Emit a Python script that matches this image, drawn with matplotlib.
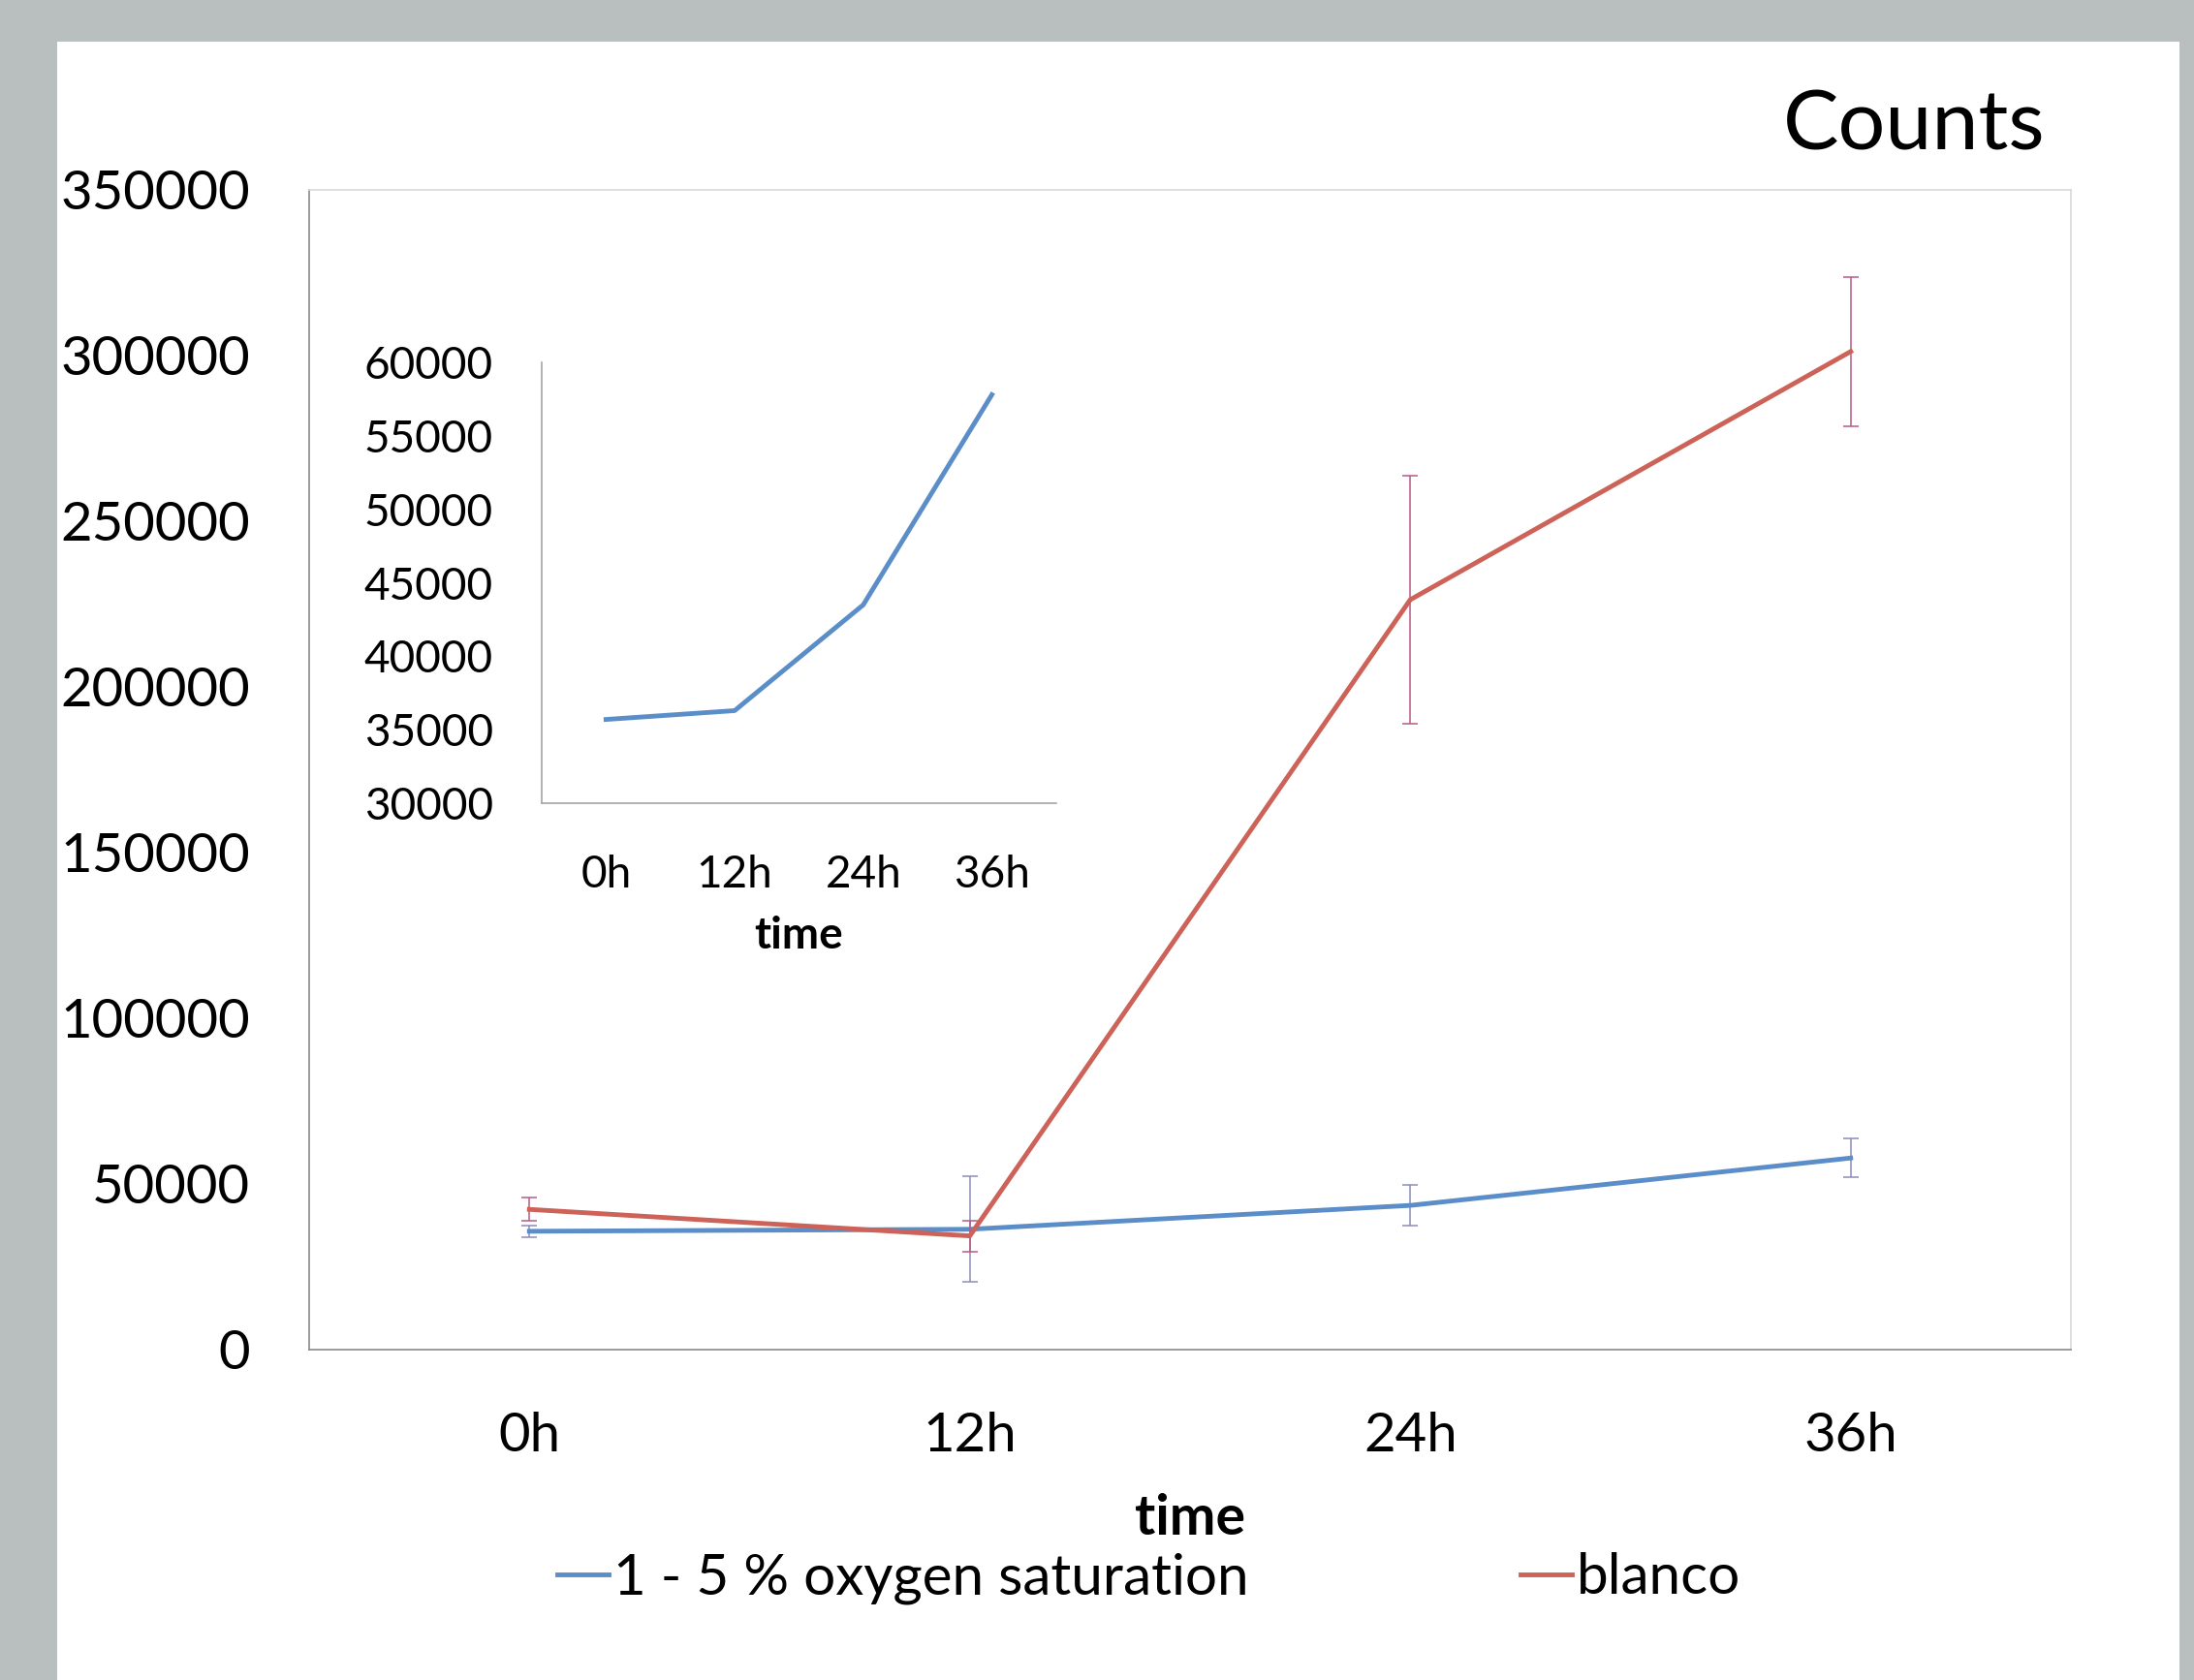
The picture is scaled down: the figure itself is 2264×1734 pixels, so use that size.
import matplotlib
matplotlib.use("Agg")
import matplotlib.pyplot as plt
import numpy as np

# data
times = ["0h", "12h", "24h", "36h"]
low_oxygen = [35700, 36300, 43500, 57800]
low_oxygen_err = [1750, 16000, 6200, 5900]
blanco = [42300, 34300, 226300, 301200]
blanco_err = [3500, 4700, 37500, 22500]

main_yticks = list(range(0, 350001, 50000))
inset_yticks = list(range(30000, 60001, 5000))

BLUE = "#5b8ec8"
RED = "#cd6259"
BLUE_ERR = "#8c8cb8"
RED_ERR = "#b85a86"

plt.rcParams["font.family"] = ["Lato", "DejaVu Sans"]

fig = plt.figure(figsize=(22.64, 17.34), dpi=100)
fig.patch.set_facecolor("#b9bebe")
# white slide panel
fig.add_artist(plt.Rectangle((0.026, 0.0), 0.9674, 0.9752, transform=fig.transFigure,
                             facecolor="white", edgecolor="none", zorder=0))

x = np.arange(len(times))

ax = fig.add_axes([0.1409, 0.1967, 0.803, 0.6903])
ax.errorbar(x, low_oxygen, yerr=low_oxygen_err, color=BLUE, lw=3.5,
            ecolor=BLUE_ERR, elinewidth=1.1, capsize=5.8, capthick=1.1,
            label="1 - 5 % oxygen saturation", zorder=3)
ax.errorbar(x, blanco, yerr=blanco_err, color=RED, lw=3.5,
            ecolor=RED_ERR, elinewidth=1.1, capsize=5.8, capthick=1.1,
            label="blanco", zorder=4)
ax.set_xlim(-0.5, 3.5)
ax.set_ylim(0, 350000)
ax.set_xticks(x)
ax.set_xticklabels(times)
ax.set_yticks(main_yticks)
ax.set_yticklabels([str(v) for v in main_yticks])
ax.tick_params(axis="both", length=0, labelsize=40.5)
ax.tick_params(axis="y", pad=44)
ax.tick_params(axis="x", pad=46)
for s in ["top", "right"]:
    ax.spines[s].set_color("#d9d9d9")
    ax.spines[s].set_linewidth(1.2)
for s in ["left", "bottom"]:
    ax.spines[s].set_color("#8a8a8a")
    ax.spines[s].set_linewidth(1.2)
ax.set_xlabel("time", fontsize=41, fontweight="bold", va="center")
ax.xaxis.set_label_coords(0.5, -0.146)

# inset with the low-oxygen series only
ins = fig.add_axes([0.2469, 0.5219, 0.2345, 0.2624])
ins.plot(x, low_oxygen, color=BLUE, lw=3.5)
ins.set_xlim(-0.5, 3.5)
ins.set_ylim(30000, 60000)
ins.set_xticks(x)
ins.set_xticklabels(times)
ins.set_yticks(inset_yticks)
ins.set_yticklabels([str(v) for v in inset_yticks])
ins.tick_params(axis="both", length=0, labelsize=33)
ins.tick_params(axis="y", pad=36)
ins.tick_params(axis="x", pad=38)
for s in ["top", "right"]:
    ins.spines[s].set_visible(False)
for s in ["left", "bottom"]:
    ins.spines[s].set_color("#a6a6a6")
    ins.spines[s].set_linewidth(1.2)
ins.patch.set_alpha(0)
ins.set_xlabel("time", fontsize=33, fontweight="bold", va="center")
ins.xaxis.set_label_coords(0.5, -0.302)

fig.text(0.9324, 0.925, "Counts", fontsize=62, ha="right", va="center")

handles = [plt.Line2D([], [], color=BLUE, lw=3.5), plt.Line2D([], [], color=RED, lw=3.5)]
fig.legend(handles, ["1 - 5 % oxygen saturation", "blanco"], loc="center left",
           bbox_to_anchor=(0.254, 0.0606), ncol=2, frameon=False, fontsize=42,
           borderpad=0, borderaxespad=0, handlelength=0.9, handletextpad=0.1,
           columnspacing=4.8)

fig.savefig("out.png", dpi=100, facecolor=fig.get_facecolor())
